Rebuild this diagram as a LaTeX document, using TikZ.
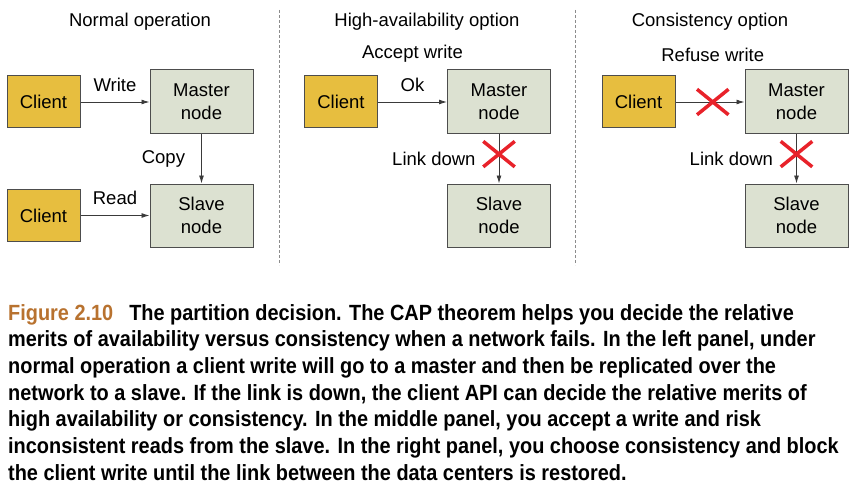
\documentclass[tikz,border=0pt]{standalone}
\usepackage{fontspec}
\setmainfont{Liberation Sans}
\newfontfamily\captionfont[FakeStretch=0.905]{Liberation Sans}
\usepackage{tikz}
\usetikzlibrary{positioning, arrows.meta, shapes.misc}

\definecolor{clientgold}{HTML}{E7BE3F}
\definecolor{servergreen}{HTML}{DCE1D1}
\definecolor{boxline}{HTML}{4D4D4D}
\definecolor{arrowgray}{HTML}{3A3A3A}
\definecolor{crossred}{HTML}{E8222A}
\definecolor{figbrown}{HTML}{B8722F}
\definecolor{sepgray}{HTML}{8C8C8C}

\begin{document}
\begin{tikzpicture}[x=1pt, y=-1pt, node distance=69pt,
  font=\fontsize{18.5}{23}\selectfont,
  client/.style={draw=boxline, fill=clientgold, line width=1pt, minimum width=73pt, minimum height=52pt},
  server/.style={draw=boxline, fill=servergreen, line width=1pt, minimum width=103pt, minimum height=64pt, align=center},
  link/.style={draw=arrowgray, line width=0.9pt, -{Latex[length=8pt,width=5pt]}},
  blocked/.style={cross out, draw=crossred, line width=3.5pt, minimum width=28pt, minimum height=22pt, inner sep=0pt},
  separator/.style={draw=sepgray, line width=0.8pt, dash pattern=on 3pt off 2pt}]
  \useasboundingbox (0,0) rectangle (851,492);

  % Normal operation
  \node (title1) at (140,22) {Normal operation};
  \node[client] (client1) at (43.5,102) {Client};
  \node[server] (master1) [right=69pt of client1] {Master\\node};
  \node[server, minimum height=63pt] (slave1) [below=49pt of master1] {Slave\\node};
  \node[client] (reader1) [left=69pt of slave1] {Client};

  \draw[link] (client1) -- node[above=7pt] {Write} (master1);
  \draw[link] (master1) -- node[left=12.7pt] {Copy} (slave1);
  \draw[link] (reader1) -- node[above=7pt] {Read} (slave1);

  \draw[separator] (279,10) -- (279,265);

  % High-availability option
  \node (title2) at (427,22) {High-availability option};
  \node[client] (client2) at (341,102) {Client};
  \node[server] (master2) [right=69pt of client2] {Master\\node};
  \node[server, minimum height=63pt] (slave2) [below=49pt of master2] {Slave\\node};

  \draw[link] (client2) -- node[above=7pt] (ok2) {Ok} (master2);
  \node (accept2) [above=8pt of ok2] {Accept write};
  \draw[link] (master2) -- node[left=19.7pt] {Link down} node[blocked, pos=0.4] (cut2) {} (slave2);

  \draw[separator] (575,10) -- (575,265);

  % Consistency option
  \node (title3) at (710,22) {Consistency option};
  \node[client] (client3) at (638.5,102) {Client};
  \node[server] (master3) [right=69pt of client3] {Master\\node};
  \node[server, minimum height=63pt] (slave3) [below=49pt of master3] {Slave\\node};

  \draw[link] (client3) -- node[blocked, pos=0.54] (refuse3) {} (master3);
  \node (reject3) [above=24pt of refuse3] {Refuse write};
  \draw[link] (master3) -- node[left=19.7pt] {Link down} node[blocked, pos=0.4] (cut3) {} (slave3);

  % caption
  \node[anchor=north west, align=left, inner sep=0pt,
    font=\captionfont\bfseries\fontsize{22}{26.7}\selectfont] (caption) at (8,304)
    {{\color{figbrown}Figure 2.10}\hspace{16pt}The partition decision. The CAP theorem helps you decide the relative\\
     merits of availability versus consistency when a network fails. In the left panel, under\\
     normal operation a client write will go to a master and then be replicated over the\\
     network to a slave. If the link is down, the client API can decide the relative merits of\\
     high availability or consistency. In the middle panel, you accept a write and risk\\
     inconsistent reads from the slave. In the right panel, you choose consistency and block\\
     the client write until the link between the data centers is restored.};
\end{tikzpicture}
\end{document}
